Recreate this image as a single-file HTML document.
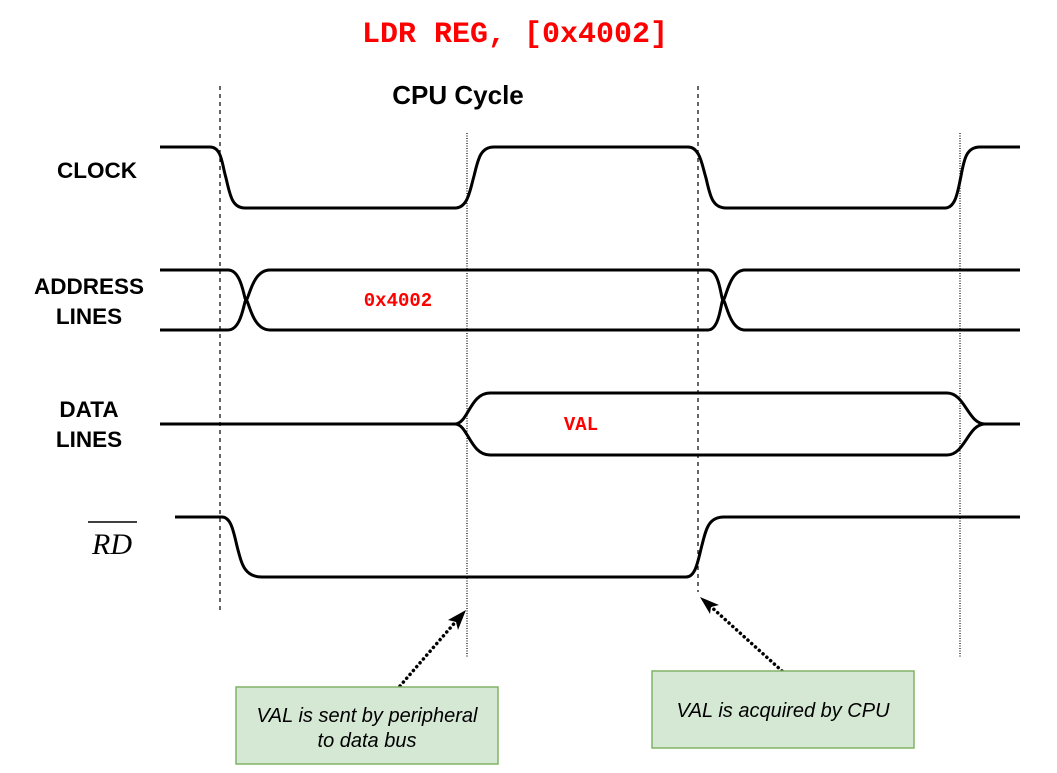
<!DOCTYPE html>
<html><head><meta charset="utf-8"><style>
html,body{margin:0;padding:0;background:#fff;}
svg{display:block;}
</style></head><body>
<svg width="1057" height="773" viewBox="0 0 1057 773" xmlns="http://www.w3.org/2000/svg">
<text x="515" y="42" text-anchor="middle" font-family="Liberation Mono, monospace" font-weight="bold" font-size="30" fill="#ff0000">LDR REG, [0x4002]</text>
<text x="458" y="104" text-anchor="middle" font-family="Liberation Sans, sans-serif" font-weight="bold" font-size="26" fill="#000">CPU Cycle</text>

<g stroke="#000" stroke-width="1.2" fill="none">
<line x1="220" y1="86" x2="220" y2="610" stroke-dasharray="4,4"/>
<line x1="698" y1="86" x2="698" y2="592" stroke-dasharray="4,4"/>
<line x1="467" y1="133" x2="467" y2="657" stroke-dasharray="1,1.5"/>
<line x1="960" y1="133" x2="960" y2="657" stroke-dasharray="1,1.5"/>
</g>

<g stroke="#000" stroke-width="3" fill="none" stroke-linejoin="round">
<path d="M160,147 H210 C222,147 222,165 226,178 C230,195 232,208 245,208 H455 C468,208 470,190 474,176 C478,160 480,147 494,147 H688 C700,147 702,165 706,178 C710,195 712,208 726,208 H945 C956,208 958,190 961,176 C964,160 966,147 980,147 H1020"/>
<path d="M160,270 H228 C242,270 244,300 246,300 C249,300 252,270 270,270 H708 C720,270 721,300 723,300 C726,300 729,270 745,270 H1020"/>
<path d="M160,330 H228 C242,330 244,300 246,300 C249,300 252,330 270,330 H708 C720,330 721,300 723,300 C726,300 729,330 745,330 H1020"/>
<path d="M160,424 H455 C468,424 470,393 490,393 H947 C965,393 968,424 985,424 H1020"/>
<path d="M455,424 C468,424 470,455 490,455 H947 C965,455 968,424 985,424"/>
<path d="M175,517 H222 C232,517 234,535 238,550 C242,565 245,577 262,577 H686 C696,577 698,560 702,545 C706,530 708,517 724,517 H1020"/>
</g>

<g font-family="Liberation Sans, sans-serif" font-weight="bold" font-size="22.5" fill="#000" text-anchor="middle">
<text x="97" y="178">CLOCK</text>
<text x="89" y="294">ADDRESS</text>
<text x="89" y="324">LINES</text>
<text x="89" y="417">DATA</text>
<text x="89" y="447">LINES</text>
</g>
<text x="112" y="554" text-anchor="middle" font-family="Liberation Serif, serif" font-style="italic" font-size="30" fill="#000">RD</text>
<line x1="88" y1="522" x2="137" y2="522" stroke="#000" stroke-width="1.5"/>

<text x="398" y="306" text-anchor="middle" font-family="Liberation Mono, monospace" font-weight="bold" font-size="19" fill="#ff0000">0x4002</text>
<text x="581" y="430" text-anchor="middle" font-family="Liberation Mono, monospace" font-weight="bold" font-size="19" fill="#ff0000">VAL</text>

<g stroke="#000" stroke-width="3.5" stroke-dasharray="0.1,5" stroke-linecap="round" fill="none">
<line x1="400" y1="686" x2="458" y2="619"/>
<line x1="782" y1="671" x2="708" y2="604"/>
</g>
<path d="M466,610 L448,620 L456,622 L458,630 z" fill="#000"/>
<path d="M700,597 L710,614 L711,607 L719,605 z" fill="#000"/>

<rect x="236" y="687" width="262" height="77" fill="#d5e8d4" stroke="#82b366" stroke-width="1.5"/>
<text x="367" y="722" text-anchor="middle" font-family="Liberation Sans, sans-serif" font-style="italic" font-size="20" fill="#000">VAL is sent by peripheral</text>
<text x="367" y="747" text-anchor="middle" font-family="Liberation Sans, sans-serif" font-style="italic" font-size="20" fill="#000">to data bus</text>

<rect x="652" y="671" width="262" height="77" fill="#d5e8d4" stroke="#82b366" stroke-width="1.5"/>
<text x="783" y="717" text-anchor="middle" font-family="Liberation Sans, sans-serif" font-style="italic" font-size="20" fill="#000">VAL is acquired by CPU</text>
</svg>
</body></html>
